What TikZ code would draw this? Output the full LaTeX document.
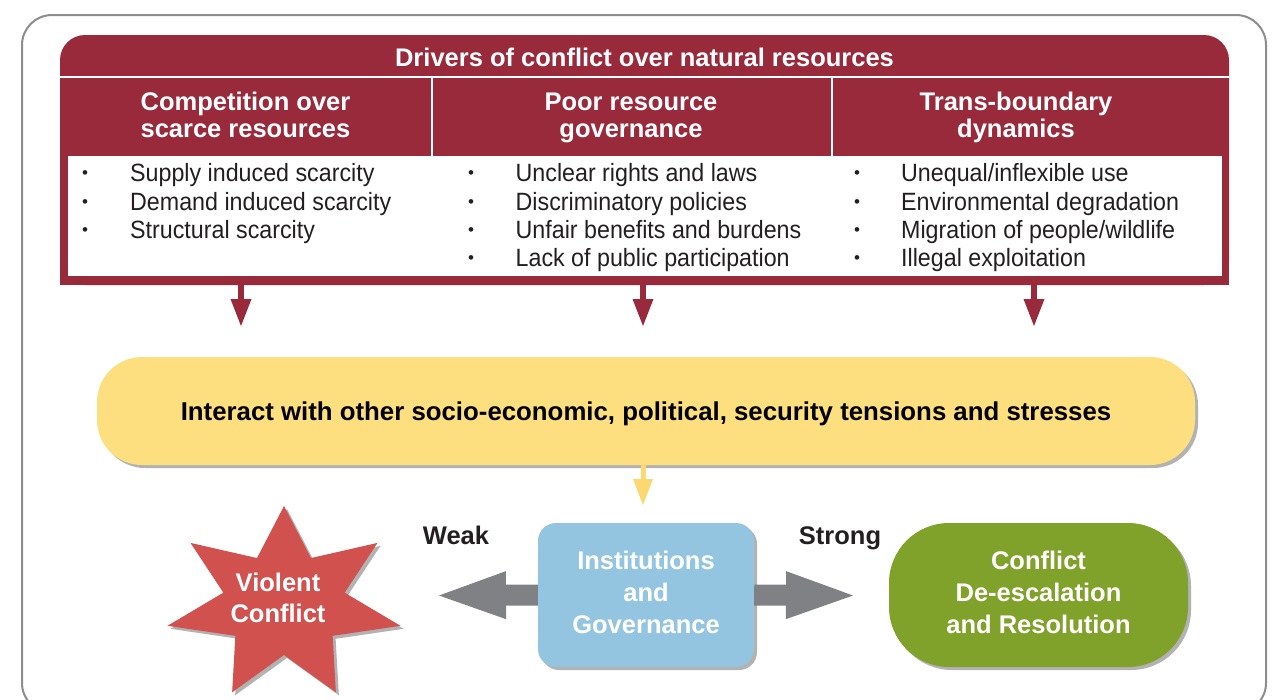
\documentclass[tikz,border=0pt]{standalone}
\usepackage{fontspec}
\setmainfont{Liberation Sans}
\newfontfamily\listfont[FakeStretch=0.93]{Liberation Sans}
\usetikzlibrary{arrows.meta,shadows}
\definecolor{drvred}{HTML}{982A3B}
\definecolor{bordergray}{HTML}{8D8D8D}
\definecolor{interyellow}{HTML}{FDDF7F}
\definecolor{arrowyellow}{HTML}{FCD870}
\definecolor{instblue}{HTML}{93C5E1}
\definecolor{resgreen}{HTML}{80A22B}
\definecolor{starred}{HTML}{D1514F}
\definecolor{arrowgray}{HTML}{808184}
\definecolor{textdark}{HTML}{231F20}
\tikzset{
  shadowed/.style={drop shadow={shadow xshift=3pt,shadow yshift=-3pt,opacity=0.3,fill=black}},
  onelinebold/.style={font=\fontsize{25.5}{30}\selectfont\bfseries, inner sep=0pt, text height=20pt, text depth=2pt},
  titletext/.style={onelinebold, text=white},
  hdr/.style={font=\fontsize{25.5}{27}\selectfont\bfseries, text=white, align=center, inner sep=0pt},
  boxtext/.style={font=\fontsize{25.5}{32}\selectfont\bfseries, text=white, align=center, inner sep=0pt},
  item/.style={font=\listfont\fontsize{25}{28}\selectfont, text=textdark, inner sep=0pt, anchor=base west},
  bul/.style={font=\fontsize{17}{20}\selectfont, text=textdark, inner sep=0pt, anchor=base},
  redarrow/.style={draw=drvred, line width=6pt, -{Triangle[width=21pt,length=27pt,line width=0pt]}},
  yellowarrow/.style={draw=arrowyellow, line width=5pt, -{Triangle[width=20pt,length=26pt,line width=0pt]}},
  grayarrow/.style={draw=arrowgray, line width=21pt, -{Triangle[width=48pt,length=67pt,line width=0pt]}},
}
\begin{document}
\begin{tikzpicture}[x=1pt,y=-1pt]
\useasboundingbox (0,0) rectangle (1280,699);
\clip (0,0) rectangle (1280,699);
% outer frame
\draw[bordergray, line width=2pt, rounded corners=30pt] (22,15) rectangle (1266,713);
% drivers box
\fill[drvred, rounded corners=25pt] (60,35) rectangle (1229,285);
\fill[drvred] (60,90) rectangle (1229,285);
\fill[white] (67.5,155.5) rectangle (1221.5,276);
\draw[white, line width=2pt] (60,76.5) -- (1229,76.5);
\draw[white, line width=2pt] (432,76.5) -- (432,155.5);
\draw[white, line width=2pt] (832,76.5) -- (832,155.5);
\node[titletext] (title) at (644.5,57.5) {Drivers of conflict over natural resources};
\node[hdr] (h1) at (245.5,118.6) {\strut Competition over\\scarce resources\strut};
\node[hdr] (h2) at (631,118.6) {\strut Poor resource\\governance\strut};
\node[hdr] (h3) at (1016,118.6) {\strut Trans-boundary\\dynamics\strut};
% lists
\foreach \txt [count=\i] in {{Supply induced scarcity},{Demand induced scarcity},{Structural scarcity}} {
  \node[bul] (ab\i) at (85,{178.7+28.3*(\i-1)}) {•};
  \node[item] (a\i) at (130,{181.7+28.3*(\i-1)}) {\txt};
}
\foreach \txt [count=\i] in {{Unclear rights and laws},{Discriminatory policies},{Unfair benefits and burdens},{Lack of public participation}} {
  \node[bul] (bb\i) at (471,{178.7+28.3*(\i-1)}) {•};
  \node[item] (b\i) at (515.5,{181.7+28.3*(\i-1)}) {\txt};
}
\foreach \txt [count=\i] in {{Unequal/inflexible use},{Environmental degradation},{Migration of people/wildlife},{Illegal exploitation}} {
  \node[bul] (cb\i) at (857,{178.7+28.3*(\i-1)}) {•};
  \node[item] (c\i) at (901,{181.7+28.3*(\i-1)}) {\txt};
}
% red arrows
\coordinate (r1s) at (241,284); \coordinate (r1e) at (241,326);
\coordinate (r2s) at (643,284); \coordinate (r2e) at (643,326);
\coordinate (r3s) at (1034,284); \coordinate (r3e) at (1034,326);
\draw[redarrow] (r1s) -- (r1e);
\draw[redarrow] (r2s) -- (r2e);
\draw[redarrow] (r3s) -- (r3e);
% interaction box
\node[onelinebold, text=black, fill=interyellow, rounded corners=45pt, minimum width=1098pt, minimum height=108pt, shadowed] (inter) at (646,411) {\fontsize{25.8}{30}\selectfont Interact with other socio-economic, political, security tensions and stresses};
% institutions
\node[boxtext, fill=instblue, rounded corners=18pt, minimum width=216pt, minimum height=144pt, shadowed] (inst) at (646,595) {\strut Institutions\\and\\Governance\strut};
% resolution
\node[boxtext, fill=resgreen, rounded corners=60pt, minimum width=299pt, minimum height=144pt, shadowed] (res) at (1038.5,595) {\strut Conflict\\De-escalation\\and Resolution\strut};
% star
\begin{scope}[shift={(284,604)}, xscale=1.22]
\fill[starred, shadowed] (-90:98) -- (-64.29:51) -- (-38.57:98) -- (-12.86:51) -- (12.86:98) -- (38.57:51) -- (64.29:98) -- (90:51) -- (115.71:98) -- (141.43:51) -- (167.14:98) -- (192.86:51) -- (218.57:98) -- (244.29:51) -- cycle;
\end{scope}
\node[font=\fontsize{25.5}{31}\selectfont\bfseries, text=white, align=center, inner sep=0pt] (violent) at (278,600.3) {\strut Violent\\Conflict\strut};
% yellow arrow
\coordinate (ytip) at (643,505);
\draw[yellowarrow] (inter.south -| ytip) -- (ytip);
% gray arrows
\coordinate (weaktip) at (439,595.5);
\coordinate (strongtip) at (853,595.5);
\draw[grayarrow] (inst.west) -- (weaktip);
\draw[grayarrow] (inst.east) -- (strongtip);
\node[onelinebold, text=textdark] (weak) at (456,535.5) {Weak};
\node[onelinebold, text=textdark] (strong) at (840,535.5) {Strong};
\end{tikzpicture}
\end{document}
